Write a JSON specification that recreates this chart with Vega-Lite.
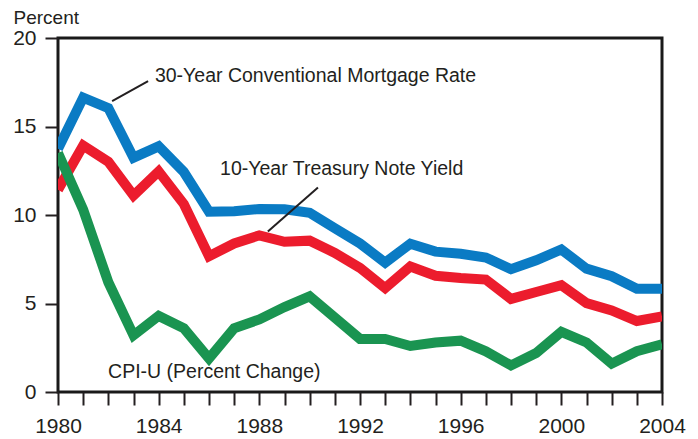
{
  "$schema": "https://vega.github.io/schema/vega-lite/v6.json",
  "width": 604,
  "height": 354,
  "autosize": {"type": "none"},
  "padding": {"left": 58, "top": 38, "right": 36, "bottom": 47},
  "background": "white",
  "config": {
    "font": "Liberation Sans",
    "view": {"stroke": "#1a1a1a", "strokeWidth": 3},
    "axis": {"grid": false, "domain": false, "labelFont": "Liberation Sans", "labelFontSize": 21, "labelColor": "#231f20", "tickColor": "#231f20", "tickWidth": 2, "tickSize": 13, "labelFlush": false}
  },
  "data": {"values": [
    {"year": 1980, "mortgage": 13.74, "treasury": 11.43, "cpi": 13.5},
    {"year": 1981, "mortgage": 16.63, "treasury": 13.92, "cpi": 10.3},
    {"year": 1982, "mortgage": 16.04, "treasury": 13.01, "cpi": 6.2},
    {"year": 1983, "mortgage": 13.24, "treasury": 11.10, "cpi": 3.2},
    {"year": 1984, "mortgage": 13.88, "treasury": 12.46, "cpi": 4.3},
    {"year": 1985, "mortgage": 12.43, "treasury": 10.62, "cpi": 3.6},
    {"year": 1986, "mortgage": 10.19, "treasury": 7.67, "cpi": 1.9},
    {"year": 1987, "mortgage": 10.21, "treasury": 8.39, "cpi": 3.6},
    {"year": 1988, "mortgage": 10.34, "treasury": 8.85, "cpi": 4.1},
    {"year": 1989, "mortgage": 10.32, "treasury": 8.49, "cpi": 4.8},
    {"year": 1990, "mortgage": 10.13, "treasury": 8.55, "cpi": 5.4},
    {"year": 1991, "mortgage": 9.25, "treasury": 7.86, "cpi": 4.2},
    {"year": 1992, "mortgage": 8.39, "treasury": 7.01, "cpi": 3.0},
    {"year": 1993, "mortgage": 7.31, "treasury": 5.87, "cpi": 3.0},
    {"year": 1994, "mortgage": 8.38, "treasury": 7.09, "cpi": 2.6},
    {"year": 1995, "mortgage": 7.93, "treasury": 6.57, "cpi": 2.8},
    {"year": 1996, "mortgage": 7.81, "treasury": 6.44, "cpi": 2.9},
    {"year": 1997, "mortgage": 7.60, "treasury": 6.35, "cpi": 2.3},
    {"year": 1998, "mortgage": 6.94, "treasury": 5.26, "cpi": 1.5},
    {"year": 1999, "mortgage": 7.44, "treasury": 5.65, "cpi": 2.2},
    {"year": 2000, "mortgage": 8.05, "treasury": 6.03, "cpi": 3.4},
    {"year": 2001, "mortgage": 6.97, "treasury": 5.02, "cpi": 2.8},
    {"year": 2002, "mortgage": 6.54, "treasury": 4.61, "cpi": 1.6},
    {"year": 2003, "mortgage": 5.83, "treasury": 4.01, "cpi": 2.3},
    {"year": 2004, "mortgage": 5.84, "treasury": 4.27, "cpi": 2.7}
  ]},
  "encoding": {
    "x": {"field": "year", "type": "quantitative", "scale": {"domain": [1980, 2004], "nice": false, "zero": false},
      "axis": {"title": null, "values": [1980,1981,1982,1983,1984,1985,1986,1987,1988,1989,1990,1991,1992,1993,1994,1995,1996,1997,1998,1999,2000,2001,2002,2003,2004], "format": "d", "labelExpr": "datum.value % 4 == 0 ? datum.label : ''", "labelPadding": 10, "labelOverlap": false}}
  },
  "layer": [
    {
      "mark": {"type": "line", "color": "#ec1c2d", "strokeWidth": 10, "strokeJoin": "miter", "strokeCap": "butt", "clip": true},
      "encoding": {"y": {"field": "treasury", "type": "quantitative", "scale": {"domain": [0, 20], "nice": false},
        "axis": {"title": "Percent", "values": [0, 5, 10, 15, 20], "titleAngle": 0, "titleX": -45, "titleY": -21, "titleAlign": "left", "titleBaseline": "middle", "titleFont": "Liberation Sans", "titleFontSize": 19, "titleFontWeight": "normal", "titleColor": "#231f20", "labelPadding": 9}}}
    },
    {
      "mark": {"type": "line", "color": "#1a9451", "strokeWidth": 10, "strokeJoin": "miter", "strokeCap": "butt", "clip": true},
      "encoding": {"y": {"field": "cpi", "type": "quantitative"}}
    },
    {
      "mark": {"type": "line", "color": "#0a7bc4", "strokeWidth": 10, "strokeJoin": "miter", "strokeCap": "butt", "clip": true},
      "encoding": {"y": {"field": "mortgage", "type": "quantitative"}}
    },
    {
      "data": {"values": [
        {"x1": 1982.15, "y1": 16.43, "x2": 1983.58, "y2": 17.56},
        {"x1": 1988.34, "y1": 9.07, "x2": 1990.33, "y2": 11.56}
      ]},
      "mark": {"type": "rule", "color": "#231f20", "strokeWidth": 2},
      "encoding": {
        "x": {"field": "x1", "type": "quantitative"},
        "y": {"field": "y1", "type": "quantitative"},
        "x2": {"field": "x2"},
        "y2": {"field": "y2"}
      }
    },
    {
      "data": {"values": [
        {"tx": 1983.85, "ty": 17.85, "label": "30-Year Conventional Mortgage Rate"},
        {"tx": 1986.44, "ty": 12.58, "label": "10-Year Treasury Note Yield"},
        {"tx": 1981.99, "ty": 1.13, "label": "CPI-U (Percent Change)"}
      ]},
      "mark": {"type": "text", "align": "left", "baseline": "middle", "font": "Liberation Sans", "fontSize": 19.5, "color": "#231f20"},
      "encoding": {
        "x": {"field": "tx", "type": "quantitative"},
        "y": {"field": "ty", "type": "quantitative"},
        "text": {"field": "label"}
      }
    }
  ]
}
